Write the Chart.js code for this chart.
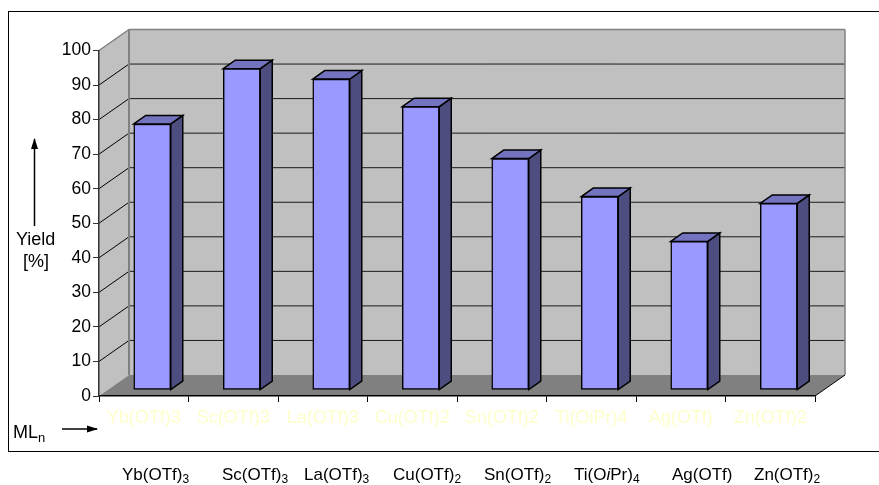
<!DOCTYPE html>
<html>
<head>
<meta charset="utf-8">
<script src="https://cdn.jsdelivr.net/npm/chart.js@4"></script>
<style>
  html, body { margin: 0; padding: 0; background: #fff; }
  body { position: relative; width: 879px; height: 485px; overflow: hidden; font-family: "Liberation Sans", Arial, sans-serif; color: #000; }
  canvas { position: absolute; left: 0; top: 0; }
  #frame { position: absolute; left: 8px; top: 11px; width: 871px; height: 439px; border: solid #000; border-width: 1.5px 0 1.5px 1.5px; box-sizing: content-box; }
  .txt { position: absolute; white-space: nowrap; line-height: 1; }
  .formula { font-size: 17px; top: 466px; }
  .formula sub { font-size: 12px; line-height: 0; vertical-align: -3px; }
  .axis { font-size: 18px; }
  .axis sub { font-size: 13px; line-height: 0; vertical-align: -4px; }
</style>
</head>
<body>
<div id="frame"></div>
<canvas id="chart" width="879" height="485"></canvas>
<div class="txt axis" style="left:16px;top:230px;">Yield</div>
<div class="txt axis" style="left:23px;top:252px;">[%]</div>
<div class="txt axis" style="left:13px;top:423px;">ML<sub>n</sub></div>
<script>
// Values
const categories = ["Yb(OTf)3", "Sc(OTf)3", "La(OTf)3", "Cu(OTf)2", "Sn(OTf)2", "Ti(OiPr)4", "Ag(OTf)", "Zn(OTf)2"];
const yields = [77, 93, 90, 82, 67, 56, 43, 54];
const yTicks = [0, 10, 20, 30, 40, 50, 60, 70, 80, 90, 100];

// Formula row under the frame, with sub/italic markup
const formulas = ["Yb(OTf)<sub>3</sub>", "Sc(OTf)<sub>3</sub>", "La(OTf)<sub>3</sub>", "Cu(OTf)<sub>2</sub>", "Sn(OTf)<sub>2</sub>", "Ti(O<i>i</i>Pr)<sub>4</sub>", "Ag(OTf)", "Zn(OTf)<sub>2</sub>"];
const formulaLeft = [122, 222, 304, 393, 484, 574, 672, 754];

formulas.forEach((html, i) => {
  const el = document.createElement("div");
  el.className = "txt formula";
  el.style.left = formulaLeft[i] + "px";
  el.innerHTML = html;
  document.body.appendChild(el);
});

// Fake 3D depth of the walls and of the bars
const wallDx = 30, wallDy = -21;
const barDx = 8.5, barDy = -6;
const sideDx = 12, sideDy = -8.5;

function poly(ctx, pts, fill, stroke, width) {
  ctx.beginPath();
  pts.forEach((p, i) => (i ? ctx.lineTo(p[0], p[1]) : ctx.moveTo(p[0], p[1])));
  ctx.closePath();
  if (fill) { ctx.fillStyle = fill; ctx.fill(); }
  if (stroke) { ctx.strokeStyle = stroke; ctx.lineWidth = width; ctx.stroke(); }
}

function line(ctx, x1, y1, x2, y2, color, width) {
  ctx.beginPath();
  ctx.moveTo(x1, y1);
  ctx.lineTo(x2, y2);
  ctx.strokeStyle = color;
  ctx.lineWidth = width;
  ctx.stroke();
}

function arrow(ctx, x1, y1, x2, y2) {
  line(ctx, x1, y1, x2, y2, "#000", 1.5);
  const a = Math.atan2(y2 - y1, x2 - x1);
  ctx.save();
  ctx.translate(x2, y2);
  ctx.rotate(a);
  poly(ctx, [[1, 0], [-10, -3.5], [-10, 3.5]], "#000");
  ctx.restore();
}

const walls = {
  id: "walls",
  beforeDraw(chart) {
    const { ctx, chartArea: a, scales: { y } } = chart;
    const top = y.getPixelForValue(100), bottom = y.getPixelForValue(0);
    ctx.save();
    // side wall, back wall, floor
    poly(ctx, [[a.left, bottom], [a.left + wallDx, bottom + wallDy], [a.left + wallDx, top + wallDy], [a.left, top]], "#c0c0c0");
    poly(ctx, [[a.left + wallDx, top + wallDy], [a.right + wallDx, top + wallDy], [a.right + wallDx, bottom + wallDy], [a.left + wallDx, bottom + wallDy]], "#c0c0c0");
    poly(ctx, [[a.left, bottom], [a.left + wallDx, bottom + wallDy], [a.right + wallDx, bottom + wallDy], [a.right, bottom]], "#808080");
    // grid lines run along the side wall and the back wall
    yTicks.slice(1, -1).forEach((v) => {
      const py = y.getPixelForValue(v);
      line(ctx, a.left, py, a.left + wallDx, py + wallDy, "#000", 1);
      line(ctx, a.left + wallDx, py + wallDy, a.right + wallDx, py + wallDy, "#1a1a1a", 1);
    });
    // grey edges of the walls
    line(ctx, a.left, top, a.left + wallDx, top + wallDy, "#808080", 1.5);
    line(ctx, a.left + wallDx, top + wallDy, a.right + wallDx, top + wallDy, "#808080", 1.5);
    line(ctx, a.left + wallDx, top + wallDy, a.left + wallDx, bottom + wallDy, "#808080", 2);
    line(ctx, a.right + wallDx, top + wallDy, a.right + wallDx, bottom + wallDy, "#808080", 1.5);
    line(ctx, a.right, bottom, a.right + wallDx, bottom + wallDy, "#000", 1);
    // the two axis arrows
    arrow(ctx, 34.5, 226, 34.5, 139);
    arrow(ctx, 62, 429, 97, 429);
    ctx.restore();
  },
  // shift the bars back into the box and add their top and side faces
  beforeDatasetDraw(chart, args) {
    const ctx = chart.ctx;
    ctx.save();
    ctx.translate(barDx, barDy);
    ctx.lineJoin = "miter";
    args.meta.data.forEach((bar) => {
      const l = bar.x - bar.width / 2, r = bar.x + bar.width / 2;
      poly(ctx, [[r, bar.y], [r + sideDx, bar.y + sideDy], [r + sideDx, bar.base + sideDy], [r, bar.base]], "#4d4d80", "#000", 1.5);
      poly(ctx, [[l, bar.y], [l + sideDx, bar.y + sideDy], [r + sideDx, bar.y + sideDy], [r, bar.y]], "#7373bf", "#000", 1.5);
    });
  },
  afterDatasetDraw(chart) {
    chart.ctx.restore();
  },
};

new Chart(document.getElementById("chart"), {
  type: "bar",
  data: {
    labels: categories,
    datasets: [{
      data: yields,
      backgroundColor: "#9999ff",
      borderColor: "#000",
      borderWidth: 1.5,
      borderSkipped: false,
      barThickness: 37,
      clip: false,
    }],
  },
  options: {
    responsive: false,
    animation: false,
    devicePixelRatio: 1,
    layout: { padding: { left: 0, top: 50.5, right: 64, bottom: 0 } },
    plugins: { legend: { display: false }, tooltip: { enabled: false } },
    scales: {
      x: {
        afterFit: (s) => { s.height = 89; },
        grid: { drawOnChartArea: false, color: "#000", tickLength: 6, tickColor: "#000" },
        border: { color: "#000", width: 1.5 },
        ticks: { color: "#ffffcc", maxRotation: 0, autoSkip: false, padding: 5, font: { family: "Liberation Sans", size: 18 } },
      },
      y: {
        min: 0,
        max: 100,
        afterFit: (s) => { s.width = 99; },
        afterBuildTicks: (s) => { s.ticks = yTicks.map((v) => ({ value: v })); },
        grid: { drawOnChartArea: false, color: "#000", tickLength: 6, tickColor: "#333" },
        border: { color: "#333", width: 1.5 },
        ticks: { color: "#000", padding: 2, font: { family: "Liberation Sans", size: 17.5 } },
      },
    },
  },
  plugins: [walls],
});
</script>
</body>
</html>
